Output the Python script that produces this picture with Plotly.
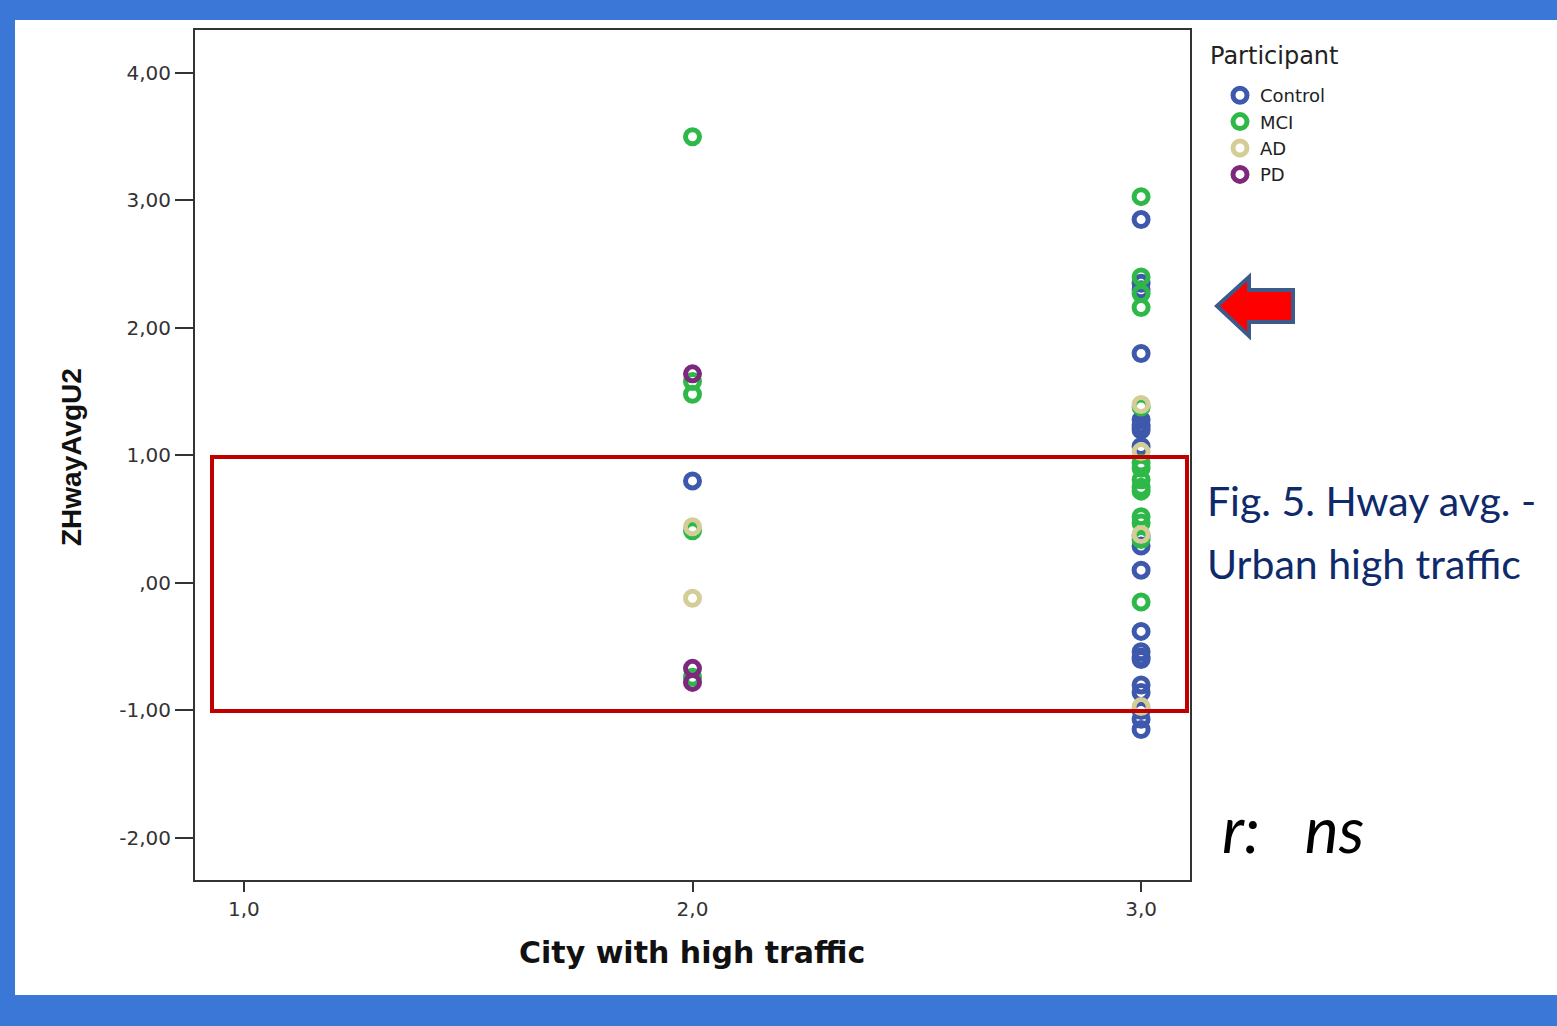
import plotly.graph_objects as go

# ---- data ----
groups = ["Control", "MCI", "AD", "PD"]
colors = {"Control": "#3E58AC", "MCI": "#2EB848", "AD": "#D3CE97", "PD": "#7C287D"}

control_x = [2] + [3] * 21
control_y = [0.80,
             2.85, 2.35, 2.30, 1.80, 1.28, 1.24, 1.20, 1.07, 0.37, 0.29, 0.10,
             -0.38, -0.54, -0.60, -0.80, -0.86, -1.00, -1.07, -1.15, 1.22, -0.58]
mci_x = [2] * 5 + [3] * 14
mci_y = [3.50, 1.58, 1.48, 0.41, -0.74,
         3.03, 2.40, 2.27, 2.16, 1.38, 0.94, 0.90, 0.81, 0.75, 0.72, 0.52, 0.47, 0.34, -0.15]
ad_x = [2, 2, 3, 3, 3, 3]
ad_y = [0.44, -0.12, 1.40, 1.03, 0.38, -0.97]
pd_x = [2, 2, 2]
pd_y = [1.64, -0.67, -0.78]

series = {"Control": (control_x, control_y), "MCI": (mci_x, mci_y),
          "AD": (ad_x, ad_y), "PD": (pd_x, pd_y)}

y_ticks = [-2, -1, 0, 1, 2, 3, 4]
y_ticktext = ["-2,00", "-1,00", ",00", "1,00", "2,00", "3,00", "4,00"]
x_ticks = [1, 2, 3]
x_ticktext = ["1,0", "2,0", "3,0"]

# ---- layout geometry (pixels of a 1557x1026 page) ----
W, H = 1557, 1026
L, R, T, B = 195, 1190, 30, 880


def px(xp):
    return (xp - L) / (R - L)


def py(yp):
    return (B - yp) / (B - T)


fig = go.Figure()
for g in groups:
    xs, ys = series[g]
    fig.add_trace(go.Scatter(
        x=xs, y=ys, mode="markers", name=g,
        marker=dict(symbol="circle-open", size=14, color=colors[g],
                    line=dict(width=5, color=colors[g])),
    ))

axis_font = dict(family="DejaVu Sans", size=20, color="#333333")
fig.update_xaxes(range=[0.891, 3.109], tickvals=x_ticks, ticktext=x_ticktext,
                 ticks="outside", ticklen=10, tickwidth=2, tickcolor="#333333",
                 showline=True, linewidth=2, linecolor="#333333", mirror=True,
                 showgrid=False, zeroline=False, tickfont=axis_font)
fig.update_yaxes(range=[-2.33, 4.337], tickvals=y_ticks, ticktext=y_ticktext,
                 ticks="outside", ticklen=18, tickwidth=2, tickcolor="#333333",
                 showline=True, linewidth=2, linecolor="#333333", mirror=True,
                 showgrid=False, zeroline=False, tickfont=axis_font)

blue = "#3A77D6"
shapes = [
    # blue slide frame
    dict(type="rect", xref="paper", yref="paper", x0=px(0), x1=px(W), y0=py(0), y1=py(20),
         fillcolor=blue, line=dict(width=0), layer="above"),
    dict(type="rect", xref="paper", yref="paper", x0=px(0), x1=px(15), y0=py(0), y1=py(H),
         fillcolor=blue, line=dict(width=0), layer="above"),
    dict(type="rect", xref="paper", yref="paper", x0=px(0), x1=px(W), y0=py(995), y1=py(H),
         fillcolor=blue, line=dict(width=0), layer="above"),
    # red highlight box
    dict(type="rect", xref="paper", yref="paper", x0=px(212), x1=px(1187), y0=py(457), y1=py(711),
         line=dict(color="#C00000", width=4), fillcolor="rgba(0,0,0,0)", layer="above"),
]
arrow_pts = [(1217, 306), (1249, 277), (1249, 290), (1293, 290), (1293, 322), (1249, 322), (1249, 336)]
path = "M " + " L ".join(f"{px(a):.5f},{py(b):.5f}" for a, b in arrow_pts) + " Z"
shapes.append(dict(type="path", xref="paper", yref="paper", path=path,
                   fillcolor="#FF0000", line=dict(color="#3C5A8A", width=4), layer="above"))

annotations = [
    dict(text="<b>ZHwayAvgU2</b>", xref="paper", yref="paper", x=px(71), y=py(457),
         textangle=-90, showarrow=False, xanchor="center", yanchor="middle",
         font=dict(family="Liberation Sans", size=28, color="#111111")),
    dict(text="<b>City with high traffic</b>", xref="paper", yref="paper", x=px(692), y=py(952),
         showarrow=False, xanchor="center", yanchor="middle",
         font=dict(family="DejaVu Sans", size=30, color="#111111")),
    dict(text="Fig. 5. Hway avg. -", xref="paper", yref="paper",
         x=px(1205), y=py(500), showarrow=False, xanchor="left", yanchor="middle", align="left",
         font=dict(family="Lato", size=41, color="#0E2A6B")),
    dict(text="Urban high traffic", xref="paper", yref="paper",
         x=px(1205), y=py(563), showarrow=False, xanchor="left", yanchor="middle", align="left",
         font=dict(family="Lato", size=41, color="#0E2A6B")),
    dict(text="<i>r:   ns</i>", xref="paper", yref="paper", x=px(1220), y=py(828),
         showarrow=False, xanchor="left", yanchor="middle",
         font=dict(family="Lato", size=64, color="#000000")),
    dict(text="Participant", xref="paper", yref="paper", x=px(1208), y=py(56),
         showarrow=False, xanchor="left", yanchor="middle",
         font=dict(family="DejaVu Sans", size=24, color="#222222")),
]

fig.update_layout(
    width=W, height=H,
    margin=dict(l=L, r=W - R, t=T, b=H - B, pad=0),
    paper_bgcolor="white", plot_bgcolor="white",
    shapes=shapes, annotations=annotations,
    legend=dict(x=px(1220), y=py(77), xanchor="left", yanchor="top",
                font=dict(family="DejaVu Sans", size=18, color="#222222"),
                itemwidth=30, tracegroupgap=0, bgcolor="rgba(0,0,0,0)"),
    showlegend=True,
)

fig.write_html("out.html", config={"displayModeBar": False},
               post_script="document.body.style.margin='0';document.body.style.overflow='hidden';")
